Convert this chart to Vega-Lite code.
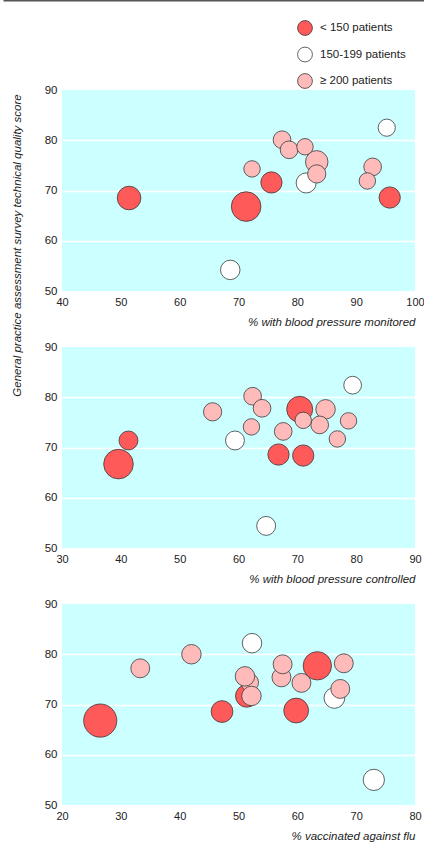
{
  "$schema": "https://vega.github.io/schema/vega-lite/v6.json",
  "padding": 0,
  "autosize": {"type": "pad"},
  "bounds": "flush",
  "spacing": 56,
  "background": "white",
  "config": {
    "font": "Liberation Sans",
    "view": {"stroke": null},
    "axis": {
      "labelFont": "Liberation Sans",
      "labelFontSize": 11.5,
      "labelColor": "#222222",
      "titleFont": "Liberation Sans",
      "titleFontSize": 11.5,
      "titleFontStyle": "italic",
      "titleFontWeight": "normal",
      "titleColor": "#222222",
      "domain": false,
      "ticks": false,
      "labelFlush": false,
      "labelPadding": 5
    },
    "axisX": {"labelFontSize": 11},
    "legend": {
      "orient": "none",
      "legendX": 235,
      "legendY": 20,
      "title": null,
      "padding": 0,
      "symbolType": "circle",
      "symbolSize": 220,
      "symbolStrokeColor": "#3a3a3a",
      "symbolStrokeWidth": 0.8,
      "symbolOpacity": 1,
      "labelFont": "Liberation Sans",
      "labelFontSize": 11.5,
      "labelColor": "#222222",
      "labelOffset": 7,
      "rowPadding": 6.5
    }
  },
  "datasets": {
    "monitored": [
      {"pct": 71.3, "score": 66.8, "group": "< 150 patients", "n": 279},
      {"pct": 51.4, "score": 68.5, "group": "< 150 patients", "n": 177},
      {"pct": 75.6, "score": 71.6, "group": "< 150 patients", "n": 144},
      {"pct": 95.7, "score": 68.6, "group": "< 150 patients", "n": 144},
      {"pct": 81.5, "score": 71.5, "group": "150-199 patients", "n": 128},
      {"pct": 68.6, "score": 54.2, "group": "150-199 patients", "n": 121},
      {"pct": 95.2, "score": 82.5, "group": "150-199 patients", "n": 94},
      {"pct": 72.3, "score": 74.3, "group": "≥ 200 patients", "n": 86},
      {"pct": 77.4, "score": 80.1, "group": "≥ 200 patients", "n": 100},
      {"pct": 78.6, "score": 78.1, "group": "≥ 200 patients", "n": 100},
      {"pct": 81.3, "score": 78.7, "group": "≥ 200 patients", "n": 86},
      {"pct": 83.3, "score": 75.7, "group": "≥ 200 patients", "n": 161},
      {"pct": 83.3, "score": 73.3, "group": "≥ 200 patients", "n": 106},
      {"pct": 92.8, "score": 74.7, "group": "≥ 200 patients", "n": 100},
      {"pct": 91.9, "score": 71.9, "group": "≥ 200 patients", "n": 86}
    ],
    "controlled": [
      {"pct": 39.6, "score": 66.7, "group": "< 150 patients", "n": 279},
      {"pct": 41.3, "score": 71.4, "group": "< 150 patients", "n": 114},
      {"pct": 66.8, "score": 68.6, "group": "< 150 patients", "n": 144},
      {"pct": 71.0, "score": 68.4, "group": "< 150 patients", "n": 144},
      {"pct": 70.4, "score": 77.6, "group": "< 150 patients", "n": 216},
      {"pct": 59.4, "score": 71.4, "group": "150-199 patients", "n": 114},
      {"pct": 79.4, "score": 82.4, "group": "150-199 patients", "n": 100},
      {"pct": 64.7, "score": 54.4, "group": "150-199 patients", "n": 114},
      {"pct": 55.6, "score": 77.1, "group": "≥ 200 patients", "n": 106},
      {"pct": 62.4, "score": 80.2, "group": "≥ 200 patients", "n": 100},
      {"pct": 64.0, "score": 77.8, "group": "≥ 200 patients", "n": 100},
      {"pct": 62.2, "score": 74.1, "group": "≥ 200 patients", "n": 86},
      {"pct": 67.6, "score": 73.2, "group": "≥ 200 patients", "n": 100},
      {"pct": 74.8, "score": 77.6, "group": "≥ 200 patients", "n": 121},
      {"pct": 73.8, "score": 74.5, "group": "≥ 200 patients", "n": 100},
      {"pct": 71.0, "score": 75.4, "group": "≥ 200 patients", "n": 86},
      {"pct": 76.8, "score": 71.7, "group": "≥ 200 patients", "n": 86},
      {"pct": 78.7, "score": 75.3, "group": "≥ 200 patients", "n": 86}
    ],
    "flu": [
      {"pct": 26.5, "score": 66.8, "group": "< 150 patients", "n": 350},
      {"pct": 63.4, "score": 77.7, "group": "< 150 patients", "n": 256},
      {"pct": 59.8, "score": 68.8, "group": "< 150 patients", "n": 196},
      {"pct": 51.4, "score": 71.7, "group": "< 150 patients", "n": 161},
      {"pct": 47.2, "score": 68.6, "group": "< 150 patients", "n": 151},
      {"pct": 52.3, "score": 82.2, "group": "150-199 patients", "n": 121},
      {"pct": 66.3, "score": 71.3, "group": "150-199 patients", "n": 137},
      {"pct": 73.0, "score": 55.0, "group": "150-199 patients", "n": 144},
      {"pct": 33.3, "score": 77.2, "group": "≥ 200 patients", "n": 114},
      {"pct": 42.0, "score": 80.0, "group": "≥ 200 patients", "n": 121},
      {"pct": 51.9, "score": 74.4, "group": "≥ 200 patients", "n": 100},
      {"pct": 51.1, "score": 75.6, "group": "≥ 200 patients", "n": 121},
      {"pct": 52.2, "score": 71.7, "group": "≥ 200 patients", "n": 121},
      {"pct": 57.3, "score": 75.4, "group": "≥ 200 patients", "n": 114},
      {"pct": 57.5, "score": 78.0, "group": "≥ 200 patients", "n": 114},
      {"pct": 60.7, "score": 74.3, "group": "≥ 200 patients", "n": 114},
      {"pct": 67.9, "score": 78.2, "group": "≥ 200 patients", "n": 114},
      {"pct": 67.3, "score": 73.1, "group": "≥ 200 patients", "n": 114}
    ]
  },
  "vconcat": [
    {
      "data": {"values": [{"v": 0}, {"v": 1}]},
      "width": 353,
      "height": 34,
      "view": {"stroke": null, "fill": null},
      "mark": {"type": "point", "opacity": 0},
      "encoding": {
        "x": {
          "field": "v",
          "type": "quantitative",
          "scale": {"domain": [0, 1], "range": [-59, 365]},
          "axis": {"orient": "top", "domain": true, "domainColor": "#555555", "domainWidth": 2, "labels": false, "ticks": false, "grid": false, "title": null}
        }
      }
    },
    {
      "data": {"name": "monitored"},
      "width": 353,
      "height": 201,
      "view": {"fill": "#CCFFFF", "stroke": null},
      "mark": {"type": "circle", "opacity": 1, "stroke": "#3a3a3a", "strokeWidth": 0.8},
      "encoding": {
        "x": {
          "field": "pct", "type": "quantitative",
          "scale": {"domain": [40, 100], "nice": false, "zero": false},
          "axis": {"values": [40, 50, 60, 70, 80, 90, 100], "grid": false, "title": "% with blood pressure monitored", "titleAnchor": "end", "titlePadding": 9}
        },
        "y": {
          "field": "score", "type": "quantitative",
          "scale": {"domain": [50, 90], "nice": false, "zero": false},
          "axis": {
            "values": [50, 60, 70, 80, 90],
            "title": "General practice assessment survey technical quality score",
            "titleY": 155,
            "titlePadding": 22,
            "grid": true,
            "gridWidth": 1.5,
            "gridColor": {"condition": {"test": "datum.value === 50 || datum.value === 90", "value": "transparent"}, "value": "white"}
          }
        },
        "color": {
          "field": "group", "type": "nominal",
          "scale": {"domain": ["< 150 patients", "150-199 patients", "≥ 200 patients"], "range": ["#FF5A5A", "#FFFFFF", "#FFBABA"]},
          "legend": {"orient": "none", "legendX": 235, "legendY": 20}
        },
        "size": {"field": "n", "type": "quantitative", "scale": {"domain": [0, 400], "range": [0, 1257]}, "legend": null}
      }
    },
    {
      "data": {"name": "controlled"},
      "width": 353,
      "height": 201,
      "view": {"fill": "#CCFFFF", "stroke": null},
      "mark": {"type": "circle", "opacity": 1, "stroke": "#3a3a3a", "strokeWidth": 0.8},
      "encoding": {
        "x": {
          "field": "pct", "type": "quantitative",
          "scale": {"domain": [30, 90], "nice": false, "zero": false},
          "axis": {"values": [30, 40, 50, 60, 70, 80, 90], "grid": false, "title": "% with blood pressure controlled", "titleAnchor": "end", "titlePadding": 9}
        },
        "y": {
          "field": "score", "type": "quantitative",
          "scale": {"domain": [50, 90], "nice": false, "zero": false},
          "axis": {
            "values": [50, 60, 70, 80, 90],
            "title": null,
            "grid": true,
            "gridWidth": 1.5,
            "gridColor": {"condition": {"test": "datum.value === 50 || datum.value === 90", "value": "transparent"}, "value": "white"}
          }
        },
        "color": {
          "field": "group", "type": "nominal",
          "scale": {"domain": ["< 150 patients", "150-199 patients", "≥ 200 patients"], "range": ["#FF5A5A", "#FFFFFF", "#FFBABA"]},
          "legend": {"orient": "none", "legendX": 235, "legendY": 20}
        },
        "size": {"field": "n", "type": "quantitative", "scale": {"domain": [0, 400], "range": [0, 1257]}, "legend": null}
      }
    },
    {
      "data": {"name": "flu"},
      "width": 353,
      "height": 201,
      "view": {"fill": "#CCFFFF", "stroke": null},
      "mark": {"type": "circle", "opacity": 1, "stroke": "#3a3a3a", "strokeWidth": 0.8},
      "encoding": {
        "x": {
          "field": "pct", "type": "quantitative",
          "scale": {"domain": [20, 80], "nice": false, "zero": false},
          "axis": {"values": [20, 30, 40, 50, 60, 70, 80], "grid": false, "title": "% vaccinated against flu", "titleAnchor": "end", "titlePadding": 9}
        },
        "y": {
          "field": "score", "type": "quantitative",
          "scale": {"domain": [50, 90], "nice": false, "zero": false},
          "axis": {
            "values": [50, 60, 70, 80, 90],
            "title": null,
            "grid": true,
            "gridWidth": 1.5,
            "gridColor": {"condition": {"test": "datum.value === 50 || datum.value === 90", "value": "transparent"}, "value": "white"}
          }
        },
        "color": {
          "field": "group", "type": "nominal",
          "scale": {"domain": ["< 150 patients", "150-199 patients", "≥ 200 patients"], "range": ["#FF5A5A", "#FFFFFF", "#FFBABA"]},
          "legend": {"orient": "none", "legendX": 235, "legendY": 20}
        },
        "size": {"field": "n", "type": "quantitative", "scale": {"domain": [0, 400], "range": [0, 1257]}, "legend": null}
      }
    }
  ]
}
